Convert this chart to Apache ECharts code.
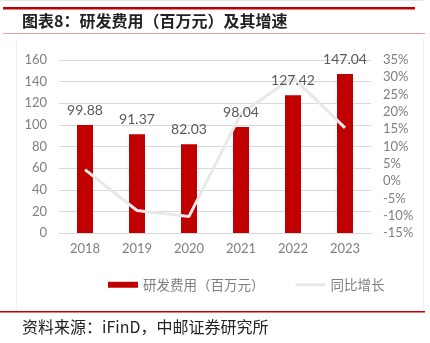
<!DOCTYPE html>
<html>
<head>
<meta charset="utf-8">
<script src="https://cdn.jsdelivr.net/npm/echarts@6/dist/echarts.min.js"></script>
<style>
html,body{margin:0;padding:0;background:#fff;}
#c{width:430px;height:343px;}
</style>
</head>
<body>
<div id="c"></div>
<script>
// 研发费用（百万元）及同比增速
var years = ['2018', '2019', '2020', '2021', '2022', '2023'];
var rdExpense = [99.88, 91.37, 82.03, 98.04, 127.42, 147.04];
var yoyGrowth = [3.3, -8.5, -10.2, 19.5, 30.0, 15.4];
var leftTicks = [0, 160, 20];
var rightTicks = [-15, 35, 5];

var chart = echarts.init(document.getElementById('c'));
var gray = '#7f7f7f';
var cjk = '"Noto Sans CJK SC", sans-serif';

chart.setOption({
  animation: false,
  backgroundColor: '#fff',
  textStyle: { fontFamily: 'Lato, "Noto Sans CJK SC", sans-serif' },
  graphic: [
    { type: 'rect', shape: { x: 0, y: 0, width: 423, height: 1 }, style: { fill: '#e6e6e6' } },
    { type: 'rect', shape: { x: 3, y: 7, width: 412, height: 2.5 }, style: { fill: '#c00000' } },
    { type: 'text', left: 22, top: 13, style: { text: '图表8：研发费用（百万元）及其增速', font: 'bold 16px ' + cjk, fill: '#222' } },
    { type: 'rect', shape: { x: 3, y: 33, width: 422, height: 1 }, style: { fill: '#e8a0a0' } },
    { type: 'rect', shape: { x: 16, y: 38, width: 1, height: 272 }, style: { fill: '#f0f0f0' } },
    { type: 'rect', shape: { x: 423, y: 38, width: 1, height: 272 }, style: { fill: '#f0f0f0' } },
    { type: 'rect', shape: { x: 0, y: 311, width: 425, height: 1.5 }, style: { fill: '#c00000' } },
    { type: 'text', left: 22, top: 319, style: { text: '资料来源：iFinD，中邮证券研究所', font: '16px ' + cjk, fill: '#222' } }
  ],
  legend: {
    top: 273,
    left: 103,
    itemGap: 31,
    itemWidth: 30,
    itemHeight: 6,
    textStyle: { color: gray, fontSize: 13.5, fontFamily: cjk },
    data: [
      { name: '研发费用（百万元）', icon: 'rect' },
      { name: '同比增长', icon: 'path://M0,0 L30,0 L30,3 L0,3 Z' }
    ]
  },
  grid: { left: 59, right: 59, top: 60, bottom: 110 },
  xAxis: {
    type: 'category',
    data: years,
    axisLine: { lineStyle: { color: '#d9d9d9' } },
    axisTick: { show: false },
    axisLabel: { color: gray, fontSize: 13, margin: 9 }
  },
  yAxis: [
    {
      type: 'value', min: leftTicks[0], max: leftTicks[1], interval: leftTicks[2],
      axisLine: { show: false }, axisTick: { show: false },
      axisLabel: { color: gray, fontSize: 13, margin: 12 },
      splitLine: { lineStyle: { color: '#d9d9d9' } }
    },
    {
      type: 'value', min: rightTicks[0], max: rightTicks[1], interval: rightTicks[2],
      axisLine: { show: false }, axisTick: { show: false },
      axisLabel: { color: gray, fontSize: 13, margin: 12, formatter: '{value}%' },
      splitLine: { show: false }
    }
  ],
  series: [
    {
      name: '研发费用（百万元）',
      type: 'bar',
      z: 2,
      data: rdExpense,
      barWidth: 16,
      itemStyle: { color: '#c00000' }
    },
    {
      name: '同比增长',
      type: 'line',
      z: 3,
      yAxisIndex: 1,
      data: yoyGrowth,
      symbol: 'none',
      lineStyle: { color: '#e8e8e8', width: 3 },
      itemStyle: { color: '#e8e8e8' }
    },
    {
      // value labels sit above the growth line
      name: 'labels',
      type: 'bar',
      z: 4,
      data: rdExpense,
      barWidth: 16,
      barGap: '-100%',
      silent: true,
      itemStyle: { color: 'rgba(0,0,0,0)' },
      label: { show: true, position: 'top', color: '#595959', fontSize: 14, distance: 8 }
    }
  ]
});
</script>
</body>
</html>
